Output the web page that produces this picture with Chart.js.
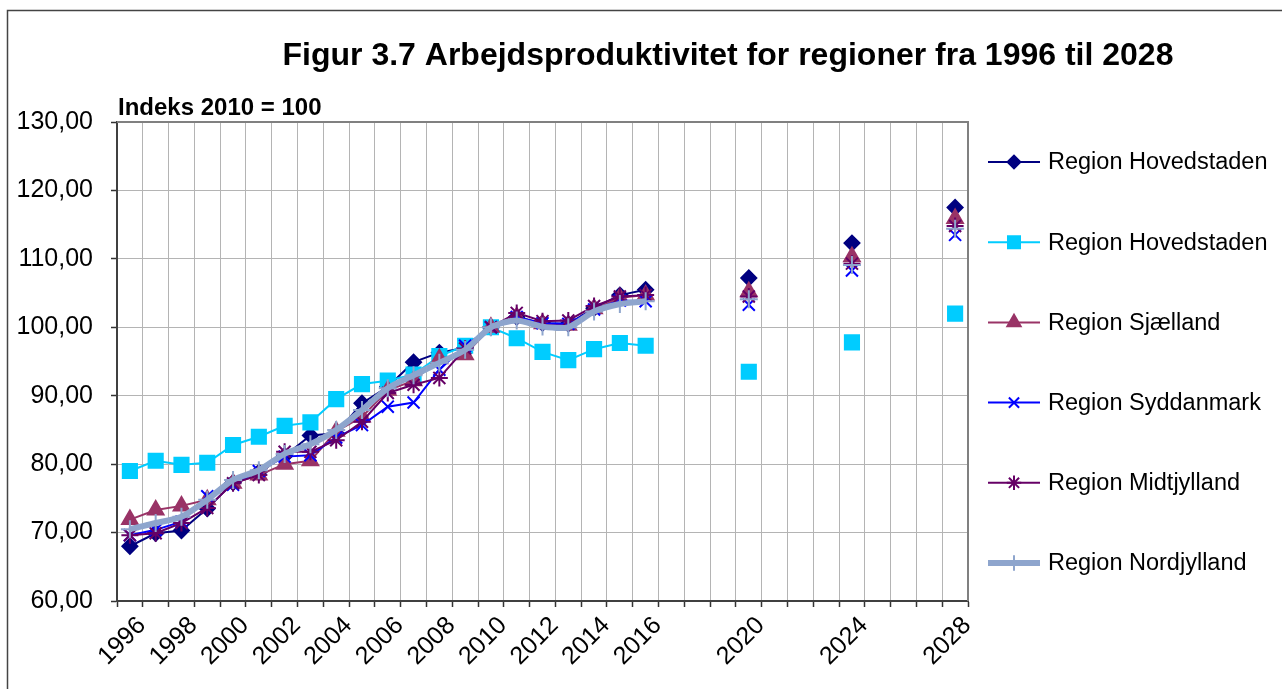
<!DOCTYPE html>
<html lang="da">
<head>
<meta charset="UTF-8">
<title>Figur 3.7 Arbejdsproduktivitet</title>
<script src="https://cdn.jsdelivr.net/npm/chart.js"></script>
<style>
  body { margin: 0; background: #fff; }
  #wrap { position: relative; width: 1282px; height: 689px; }
</style>
</head>
<body>
<div id="wrap"><canvas id="chart"></canvas></div>
<script>
// categories 1996-2028, projections only every 4th year after 2016
const years = ['1996','1997','1998','1999','2000','2001','2002','2003','2004','2005','2006',
  '2007','2008','2009','2010','2011','2012','2013','2014','2015','2016',
  '2017','2018','2019','2020','2021','2022','2023','2024','2025','2026','2027','2028'];
const shownYears = ['1996','1998','2000','2002','2004','2006','2008','2010','2012','2014','2016','2020','2024','2028'];

const hovedstaden = [68.0, 69.9, 70.3, 73.5, 77.3, 78.8, 81.2, 84.2, 84.5, 88.9, 91.3,
  94.9, 96.3, 97.0, 100.0, 101.5, 100.6, 100.5, 102.8, 104.7, 105.5,
  null, null, null, 107.2, null, null, null, 112.3, null, null, null, 117.5];
const hovedstaden2 = [79.0, 80.5, 79.9, 80.2, 82.8, 84.0, 85.6, 86.1, 89.5, 91.7, 92.2,
  93.1, 95.8, 97.3, 100.0, 98.4, 96.4, 95.2, 96.8, 97.7, 97.3,
  null, null, null, 93.5, null, null, null, 97.8, null, null, null, 102.0];
const sjaelland = [71.9, 73.3, 73.9, 74.8, 77.2, 78.4, 80.0, 80.5, 84.8, 86.9, 90.8,
  92.2, 95.4, 96.0, 100.0, 101.5, 100.5, 100.3, 102.7, 104.3, 104.7,
  null, null, null, 105.2, null, null, null, 110.3, null, null, null, 115.9];
const syddanmark = [69.6, 70.4, 71.6, 75.3, 77.0, 79.0, 81.1, 81.3, 83.9, 85.7, 88.4,
  89.0, 93.8, 97.3, 100.0, 101.5, 100.6, 100.5, 102.6, 103.9, 103.8,
  null, null, null, 103.3, null, null, null, 108.3, null, null, null, 113.5];
const midtjylland = [69.6, 69.9, 71.4, 73.6, 77.2, 78.4, 81.8, 81.8, 83.5, 86.2, 90.4,
  91.6, 92.6, 96.9, 100.0, 102.1, 100.9, 101.0, 103.1, 104.5, 104.7,
  null, null, null, 104.5, null, null, null, 109.3, null, null, null, 114.8];
const nordjylland = [70.5, 71.4, 72.3, 74.8, 77.7, 79.1, 81.5, 82.9, 85.0, 87.9, 91.1,
  93.0, 94.8, 96.7, 100.0, 101.0, 100.1, 100.0, 102.3, 103.4, 103.8,
  null, null, null, 104.1, null, null, null, 109.1, null, null, null, 114.4];

const FONT = '"Liberation Sans", Arial, sans-serif';

function series(label, data, color, style, radius, width, order) {
  return {
    label: label,
    data: data,
    borderColor: color,
    backgroundColor: color,
    pointBackgroundColor: color,
    pointBorderColor: color,
    pointStyle: style,
    pointRadius: radius,
    pointHoverRadius: radius,
    pointBorderWidth: 2,
    borderWidth: width,
    spanGaps: false,
    tension: 0,
    order: order
  };
}

const datasets = [
  series('Region Hovedstaden', hovedstaden, '#000080', 'rectRot', 7.5, 2, 6),
  series('Region Hovedstaden', hovedstaden2, '#00CCFF', 'rect', 10, 2, 5),
  series('Region Sjælland', sjaelland, '#993366', 'triangle', 9, 2, 4),
  series('Region Syddanmark', syddanmark, '#0000FF', 'crossRot', 8.5, 2, 3),
  series('Region Midtjylland', midtjylland, '#660066', 'star', 8.5, 2, 2),
  series('Region Nordjylland', nordjylland, '#8EA5CD', 'cross', 9, 6, 1)
];
datasets[5].tension = 0.25;

// title, frame, plot border and legend drawn on the canvas
const decor = {
  id: 'decor',
  beforeDraw(chart) {
    const ctx = chart.ctx;
    ctx.save();
    ctx.fillStyle = '#fff';
    ctx.fillRect(0, 0, chart.width, chart.height);
    ctx.strokeStyle = '#444';
    ctx.lineWidth = 1.5;
    ctx.beginPath();
    ctx.moveTo(7.5, chart.height);
    ctx.lineTo(7.5, 10.5);
    ctx.lineTo(chart.width, 10.5);
    ctx.stroke();
    ctx.restore();
  },
  afterDraw(chart) {
    const ctx = chart.ctx;
    const a = chart.chartArea;
    ctx.save();
    // plot border top/right
    ctx.strokeStyle = '#808080';
    ctx.lineWidth = 2;
    ctx.beginPath();
    ctx.moveTo(a.left, a.top);
    ctx.lineTo(a.right, a.top);
    ctx.lineTo(a.right, a.bottom);
    ctx.stroke();

    ctx.fillStyle = '#000';
    ctx.textBaseline = 'middle';
    ctx.textAlign = 'center';
    ctx.font = 'bold 32px ' + FONT;
    ctx.fillText('Figur 3.7 Arbejdsproduktivitet for regioner fra 1996 til 2028', 728, 56);
    ctx.textAlign = 'left';
    ctx.font = 'bold 24px ' + FONT;
    ctx.fillText('Indeks 2010 = 100', a.left + 1, 108);

    // legend
    chart.data.datasets.forEach((ds, i) => {
      const y = 162 + i * 80.2;
      const x0 = a.right + 20;
      ctx.strokeStyle = ds.borderColor;
      ctx.lineWidth = ds.borderWidth;
      ctx.beginPath();
      ctx.moveTo(x0, y);
      ctx.lineTo(x0 + 52, y);
      ctx.stroke();
      ctx.fillStyle = ds.borderColor;
      ctx.lineWidth = 2;
      Chart.helpers.drawPoint(ctx, {
        pointStyle: ds.pointStyle,
        radius: ds.pointRadius * 0.85,
        rotation: 0,
        borderWidth: 2
      }, x0 + 26, y);
      ctx.fillStyle = '#000';
      ctx.font = '23.5px ' + FONT;
      ctx.fillText(ds.label, x0 + 60, y + 1);
    });
    ctx.restore();
  }
};

new Chart(document.getElementById('chart'), {
  type: 'line',
  data: { labels: years, datasets: datasets },
  plugins: [decor],
  options: {
    responsive: true,
    maintainAspectRatio: false,
    animation: false,
    layout: { autoPadding: false, padding: { top: 122, right: 314, left: 0, bottom: 0 } },
    plugins: {
      legend: { display: false },
      title: { display: false },
      tooltip: { enabled: false }
    },
    scales: {
      x: {
        type: 'category',
        offset: true,
        afterFit: s => { s.height = 88; },
        grid: {
          offset: true,
          color: '#b4b4b4',
          borderDash: [2, 2],
          tickLength: 6,
          tickColor: '#333',
          tickBorderDash: [],
          tickWidth: 1.5
        },
        border: { color: '#404040', width: 2 },
        ticks: {
          autoSkip: false,
          maxRotation: 45,
          minRotation: 45,
          padding: 4,
          labelOffset: 12,
          color: '#000',
          font: { family: FONT, size: 25 },
          callback: function (value) {
            const lab = this.getLabelForValue(value);
            return shownYears.includes(lab) ? lab : '';
          }
        }
      },
      y: {
        min: 60,
        max: 130,
        afterFit: s => { s.width = 117; },
        grid: {
          color: '#b4b4b4',
          borderDash: [2, 2],
          tickLength: 6,
          tickColor: '#333',
          tickBorderDash: [],
          tickWidth: 1.5
        },
        border: { color: '#404040', width: 2 },
        ticks: {
          stepSize: 10,
          padding: 18,
          color: '#000',
          font: { family: FONT, size: 25 },
          callback: v => v.toFixed(2).replace('.', ',')
        }
      }
    }
  }
});
</script>
</body>
</html>
